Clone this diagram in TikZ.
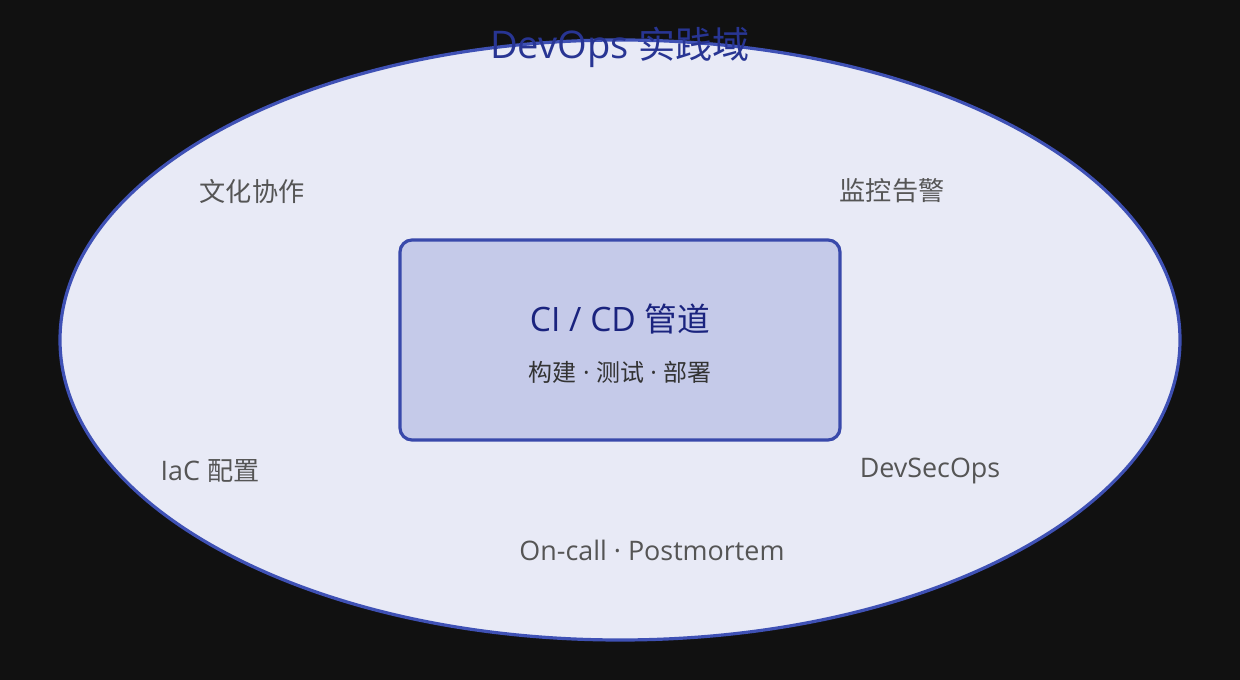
\documentclass[tikz,border=0pt]{standalone}
\usepackage{fontspec}
\setmainfont{Open Sans}[Scale=1.12]
\newfontfamily\cjk[Scale=1.09]{Noto Sans CJK SC}
\usetikzlibrary{positioning}
\definecolor{bgdark}{HTML}{111111}
\definecolor{domfill}{HTML}{E8EAF6}
\definecolor{domline}{HTML}{3F51B5}
\definecolor{pipefill}{HTML}{C5CAE9}
\definecolor{pipeline}{HTML}{3949AB}
\definecolor{titleblue}{HTML}{283593}
\definecolor{pipeblue}{HTML}{1A237E}
\definecolor{subgray}{HTML}{333333}
\definecolor{labgray}{HTML}{555555}

\begin{document}
\begin{tikzpicture}[x=0.75pt,y=-0.75pt]
    \tikzstyle{devopsarea}=[draw=domline, fill=domfill, line width=2.4pt]
    \tikzstyle{pipebox}=[draw=pipeline, fill=pipefill, line width=2.4pt,
                         rounded corners=9pt, minimum width=330pt, minimum height=150pt]
    \tikzstyle{practice}=[text=labgray, font=\fontsize{18}{20}\selectfont, inner sep=0pt]

    % Background and domain ellipse
    \fill [bgdark] (0,0) rectangle (1240,680);
    \draw [devopsarea] (620,340) ellipse [x radius=560, y radius=300];
    \node [text=titleblue, font=\fontsize{25.5}{28}\selectfont, inner sep=0pt] (title) at (620,47) {DevOps {\cjk 实践域}};

    % CI/CD pipeline box
    \node [pipebox] (pipe) at (620,340) {};
    \node [text=pipeblue, font=\fontsize{22.5}{25}\selectfont, inner sep=0pt] (pipename) at (620,319) {CI / CD {\cjk 管道}};
    \node [text=subgray, font=\fontsize{16.5}{19}\selectfont, inner sep=0pt] (pipesteps) at (620,372) {{\cjk 构建} · {\cjk 测试} · {\cjk 部署}};

    % Surrounding practices
    \node [practice] (culture) at (252,191) {\cjk 文化协作};
    \node [practice] (monitor) at (892,191) {\cjk 监控告警};
    \node [practice] (iac) at (210,471) {IaC {\cjk 配置}};
    \node [practice] (secops) at (930,471) {DevSecOps};
    \node [practice] (oncall) at (652,550) {On-call · Postmortem};
\end{tikzpicture}
\end{document}
